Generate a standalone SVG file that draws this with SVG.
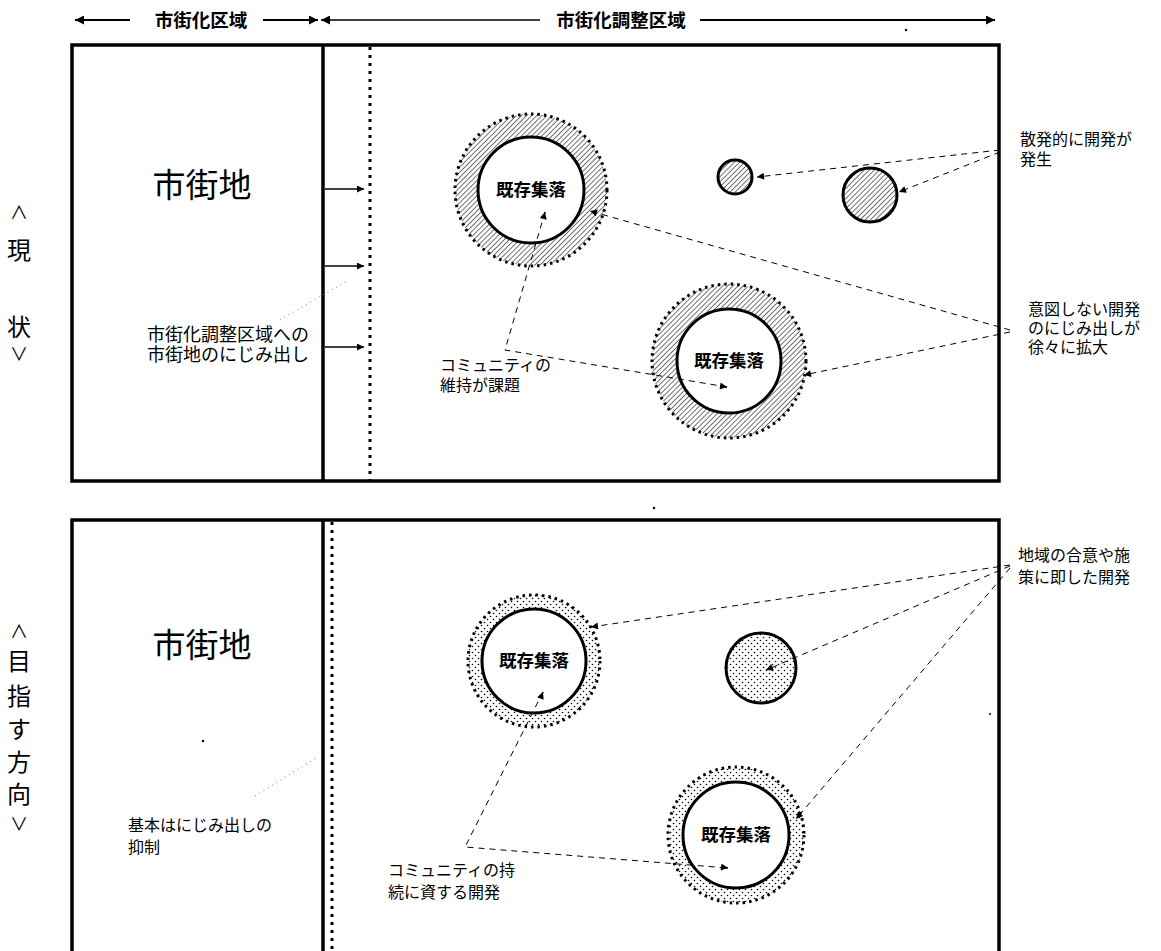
<svg xmlns="http://www.w3.org/2000/svg" width="1161" height="951" viewBox="0 0 1161 951">
<defs>
<style>
text{font-family:"Noto Sans CJK JP","Liberation Sans",sans-serif;fill:#000}
.hd{font-size:18.5px;font-weight:bold}
.big{font-size:33px}
.lbl{font-size:16px}
.lblL{font-size:18px}
.set{font-size:17.5px;font-weight:bold}
.side{font-size:24px}
.car{font-size:18px}
.frame{fill:none;stroke:#000;stroke-width:3.5}
.solid{stroke:#000;stroke-width:3.5}
.dotv{stroke:#000;stroke-width:3;stroke-dasharray:3 5}
.inner{fill:#fff;stroke:#000;stroke-width:3}
.ring{stroke:#000;stroke-width:3;stroke-dasharray:2.5 4}
.dash{fill:none;stroke:#000;stroke-width:1;stroke-dasharray:6 5}
.dot{fill:none;stroke:#777;stroke-width:1;stroke-dasharray:1 4}
.arr{fill:none;stroke:#000;stroke-width:1.3}
.harr{fill:none;stroke:#000;stroke-width:2}
</style>
<marker id="ah" viewBox="0 0 10 10" refX="10" refY="5" markerWidth="11" markerHeight="9" markerUnits="userSpaceOnUse" orient="auto">
<path d="M0,0 L10,5 L0,10 z" fill="#000"/>
</marker>
<marker id="ahs" viewBox="0 0 10 10" refX="10" refY="5" markerWidth="9" markerHeight="7" markerUnits="userSpaceOnUse" orient="auto">
<path d="M0,0 L10,5 L0,10 z" fill="#000"/>
</marker>
<pattern id="hatch" width="3.6" height="3.6" patternUnits="userSpaceOnUse" patternTransform="rotate(45)">
<line x1="0" y1="0" x2="0" y2="3.6" stroke="#000" stroke-width="1.1"/>
</pattern>
<pattern id="stip" width="6" height="6" patternUnits="userSpaceOnUse">
<circle cx="1.5" cy="1.5" r="0.8" fill="#000"/>
<circle cx="4.5" cy="4.5" r="0.8" fill="#000"/>
</pattern>
</defs>

<g id="header">
<line class="harr" x1="130" y1="20" x2="75" y2="20" marker-end="url(#ah)"/>
<text class="hd" x="201" y="27" text-anchor="middle">市街化区域</text>
<line class="harr" x1="263" y1="20" x2="318" y2="20" marker-end="url(#ah)"/>
<line class="arr" x1="540" y1="20" x2="321" y2="20" marker-end="url(#ah)"/>
<text class="hd" x="621" y="27" text-anchor="middle">市街化調整区域</text>
<line class="harr" x1="700" y1="20" x2="995" y2="20" marker-end="url(#ah)"/>
<circle cx="906" cy="30" r="1.2" fill="#000"/>
</g>

<g id="side-top">
<text class="car" x="19" y="219" text-anchor="middle">∧</text>
<text class="side" x="19" y="259" text-anchor="middle">現</text>
<text class="side" x="19" y="336" text-anchor="middle">状</text>
<text class="car" x="19" y="361" text-anchor="middle">∨</text>
</g>
<g id="side-bottom">
<text class="car" x="19" y="638" text-anchor="middle">∧</text>
<text class="side" x="19" y="670" text-anchor="middle">目</text>
<text class="side" x="19" y="705" text-anchor="middle">指</text>
<text class="side" x="19" y="738" text-anchor="middle">す</text>
<text class="side" x="19" y="771" text-anchor="middle">方</text>
<text class="side" x="19" y="803" text-anchor="middle">向</text>
<text class="car" x="19" y="831" text-anchor="middle">∨</text>
</g>

<g id="panel-top">
<rect class="frame" x="72" y="45" width="927" height="436"/>
<line class="solid" x1="323" y1="45" x2="323" y2="481"/>
<line class="dotv" x1="370" y1="47" x2="370" y2="481"/>
<text class="big" x="202" y="197" text-anchor="middle">市街地</text>
<text class="lblL" x="147" y="341">市街化調整区域への</text>
<text class="lblL" x="147" y="361">市街地のにじみ出し</text>
</g>

<g id="panel-bottom">
<path class="frame" d="M72,951 V520 H999 V951"/>
<line class="solid" x1="323" y1="520" x2="323" y2="951"/>
<line class="dotv" x1="332" y1="522" x2="332" y2="951"/>
<text class="big" x="202" y="657" text-anchor="middle">市街地</text>
<text class="lbl" x="128" y="831">基本はにじみ出しの</text>
<text class="lbl" x="128" y="853">抑制</text>
</g>

<g id="settlement-top-1">
<circle cx="531" cy="190" r="76" fill="url(#hatch)"/>
<circle class="ring" cx="531" cy="190" r="76" fill="none"/>
<circle class="inner" cx="531" cy="190" r="53"/>
<text class="set" x="531" y="196" text-anchor="middle">既存集落</text>
</g>
<g id="settlement-top-2">
<circle cx="729" cy="361" r="77" fill="url(#hatch)"/>
<circle class="ring" cx="729" cy="361" r="77" fill="none"/>
<circle class="inner" cx="729" cy="361" r="52"/>
<text class="set" x="729" y="367" text-anchor="middle">既存集落</text>
</g>
<g id="spot-small">
<circle cx="735" cy="177" r="17" fill="url(#hatch)" stroke="#000" stroke-width="3"/>
</g>
<g id="spot-medium">
<circle cx="870" cy="195" r="27" fill="url(#hatch)" stroke="#000" stroke-width="3"/>
</g>

<g id="label-sporadic">
<text class="lbl" x="1020" y="145">散発的に開発が</text>
<text class="lbl" x="1020" y="165">発生</text>
</g>
<g id="label-unintended">
<text class="lbl" x="1028" y="315">意図しない開発</text>
<text class="lbl" x="1028" y="334">のにじみ出しが</text>
<text class="lbl" x="1028" y="353">徐々に拡大</text>
</g>
<g id="label-community-top">
<text class="lbl" x="440" y="371">コミュニティの</text>
<text class="lbl" x="440" y="391">維持が課題</text>
</g>

<g id="settlement-bottom-1">
<circle cx="534" cy="661" r="66" fill="url(#stip)"/>
<circle class="ring" cx="534" cy="661" r="66" fill="none"/>
<circle class="inner" cx="534" cy="661" r="52"/>
<text class="set" x="534" y="667" text-anchor="middle">既存集落</text>
</g>
<g id="spot-bottom">
<circle cx="761" cy="668" r="35" fill="url(#stip)" stroke="#000" stroke-width="3"/>
</g>
<g id="settlement-bottom-2">
<circle cx="736" cy="835" r="68" fill="url(#stip)"/>
<circle class="ring" cx="736" cy="835" r="68" fill="none"/>
<circle class="inner" cx="736" cy="835" r="53"/>
<text class="set" x="736" y="841" text-anchor="middle">既存集落</text>
</g>

<g id="label-consensus">
<text class="lbl" x="1018" y="561">地域の合意や施</text>
<text class="lbl" x="1018" y="583">策に即した開発</text>
</g>
<g id="label-community-bottom">
<text class="lbl" x="388" y="876">コミュニティの持</text>
<text class="lbl" x="388" y="898">続に資する開発</text>
</g>

<g id="connectors">
<line class="arr" x1="325" y1="189" x2="364" y2="189" marker-end="url(#ahs)"/>
<line class="arr" x1="325" y1="266" x2="364" y2="266" marker-end="url(#ahs)"/>
<line class="arr" x1="325" y1="347" x2="364" y2="347" marker-end="url(#ahs)"/>
<line class="dot" x1="280" y1="320" x2="347" y2="281"/>

<line class="dash" x1="1000" y1="150" x2="757" y2="177" marker-end="url(#ahs)"/>
<line class="dash" x1="1000" y1="152" x2="899" y2="192" marker-end="url(#ahs)"/>

<line class="dash" x1="1010" y1="330" x2="590" y2="211" marker-end="url(#ahs)"/>
<line class="dash" x1="1010" y1="332" x2="804" y2="375" marker-end="url(#ahs)"/>

<polyline class="dash" points="545,212 505,350 727,387"/>
<line class="arr" x1="544" y1="216" x2="545" y2="212" marker-end="url(#ahs)"/>
<line class="arr" x1="720" y1="386" x2="727" y2="387" marker-end="url(#ahs)"/>

<line class="dash" x1="1010" y1="565" x2="591" y2="627" marker-end="url(#ahs)"/>
<line class="dash" x1="1010" y1="566" x2="766" y2="670" marker-end="url(#ahs)"/>
<line class="dash" x1="1010" y1="568" x2="796" y2="819" marker-end="url(#ahs)"/>

<polyline class="dash" points="543,692 465,847 728,868"/>
<line class="arr" x1="541" y1="697" x2="543" y2="692" marker-end="url(#ahs)"/>
<line class="arr" x1="721" y1="867" x2="728" y2="868" marker-end="url(#ahs)"/>

<line class="dot" x1="255" y1="796" x2="316" y2="758"/>
</g>

<g id="specks">
<circle cx="654" cy="508" r="1.2" fill="#000"/>
<circle cx="203" cy="741" r="1.2" fill="#000"/>
<circle cx="990" cy="714" r="1" fill="#000"/>
</g>
</svg>
